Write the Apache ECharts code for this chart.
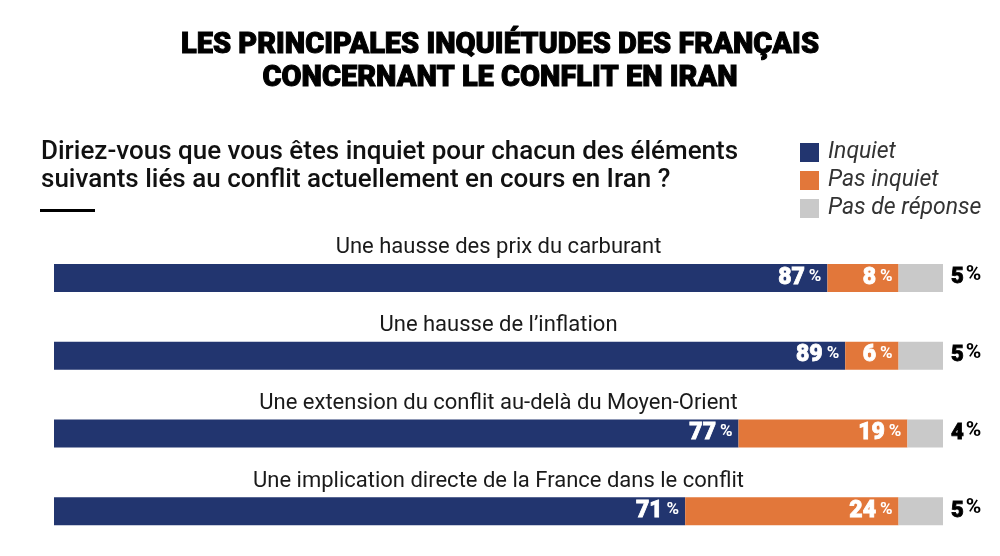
<!DOCTYPE html>
<html>
<head>
    <meta charset="utf-8">
    <title>Inquiétudes des Français</title>
    <script src="https://cdn.jsdelivr.net/npm/echarts@6.0.0/dist/echarts.min.js"></script>
    <style>
        html, body { margin: 0; padding: 0; background: #fff; }
        #chart { width: 1000px; height: 556px; }
    </style>
</head>
<body>
<div id="chart"></div>
<script>
    // données
    const categories = [
        'Une hausse des prix du carburant',
        'Une hausse de l\u2019inflation',
        'Une extension du conflit au-delà du Moyen-Orient',
        'Une implication directe de la France dans le conflit'
    ];
    const inquiet = [87, 89, 77, 71];
    const pasInquiet = [8, 6, 19, 24];
    const sansReponse = [5, 5, 4, 5];
    const seriesNames = ['Inquiet', 'Pas inquiet', 'Pas de réponse'];

    const chart = echarts.init(document.getElementById('chart'));

    // étiquette "87 %" : gros chiffre, petit % surélevé
    const pctLabel = (color, size, pSize, pPad) => ({
        show: true,
        formatter: p => `{n|${p.value}}{p|%}`,
        rich: {
            n: {
                color: color, fontSize: size, fontWeight: 900, fontFamily: 'Roboto',
                textBorderColor: color, textBorderWidth: 0.8
            },
            p: { color: color, fontSize: pSize, fontWeight: 'bold', fontFamily: 'Roboto', padding: pPad }
        }
    });

    const option = {
        animation: false,
        title: [{
            text: 'LES PRINCIPALES INQUIÉTUDES DES FRANÇAIS\nCONCERNANT LE CONFLIT EN IRAN',
            left: 'center',
            top: 24,
            textStyle: {
                fontFamily: 'Roboto', fontWeight: 900, fontSize: 29, lineHeight: 33, color: '#000',
                textBorderColor: '#000', textBorderWidth: 1
            }
        }, {
            text: 'Diriez-vous que vous êtes inquiet pour chacun des éléments\nsuivants liés au conflit actuellement en cours en Iran ?',
            left: 36,
            top: 133,
            textStyle: { fontFamily: 'Roboto', fontWeight: 500, fontSize: 26, lineHeight: 28, color: '#111' }
        }],
        legend: {
            data: seriesNames,
            orient: 'vertical',
            left: 795,
            top: 136,
            icon: 'rect',
            itemWidth: 19,
            itemHeight: 19,
            itemGap: 5,
            textStyle: { fontFamily: 'Roboto', fontStyle: 'italic', fontSize: 23, color: '#333', padding: [0, 0, 0, 4] }
        },
        graphic: [{
            type: 'rect',
            left: 40,
            top: 209,
            shape: { width: 55, height: 3 },
            style: { fill: '#000' }
        }],
        grid: { left: 54, right: 57, top: 239, bottom: 6 },
        xAxis: { type: 'value', min: 0, max: 100, show: false },
        yAxis: { type: 'category', data: categories, inverse: true, show: false },
        series: [{
            name: 'cat',
            type: 'bar',
            data: categories.map(() => 100),
            barWidth: 28,
            barGap: '-100%',
            silent: true,
            itemStyle: { color: 'rgba(0,0,0,0)' },
            label: {
                show: true,
                position: 'top',
                distance: 5,
                formatter: p => p.name,
                fontFamily: 'Roboto',
                fontSize: 22,
                color: '#1a1a1a'
            },
            z: 1
        }, {
            name: seriesNames[0],
            type: 'bar',
            stack: 'total',
            barWidth: 28,
            data: inquiet,
            itemStyle: { color: '#22356f' },
            label: Object.assign(pctLabel('#fff', 23, 17, [0, 0, 3, 4]), { position: 'insideRight', distance: 6 }),
            z: 2
        }, {
            name: seriesNames[1],
            type: 'bar',
            stack: 'total',
            data: pasInquiet,
            itemStyle: { color: '#e2773a' },
            label: Object.assign(pctLabel('#fff', 23, 17, [0, 0, 3, 4]), { position: 'insideRight', distance: 6 }),
            z: 2
        }, {
            name: seriesNames[2],
            type: 'bar',
            stack: 'total',
            data: sansReponse,
            itemStyle: { color: '#c9c9c9' },
            label: Object.assign(pctLabel('#000', 22, 21, [0, 0, 6, 2]), { position: 'right', distance: 8 }),
            z: 2
        }]
    };

    chart.setOption(option);
</script>
</body>
</html>
